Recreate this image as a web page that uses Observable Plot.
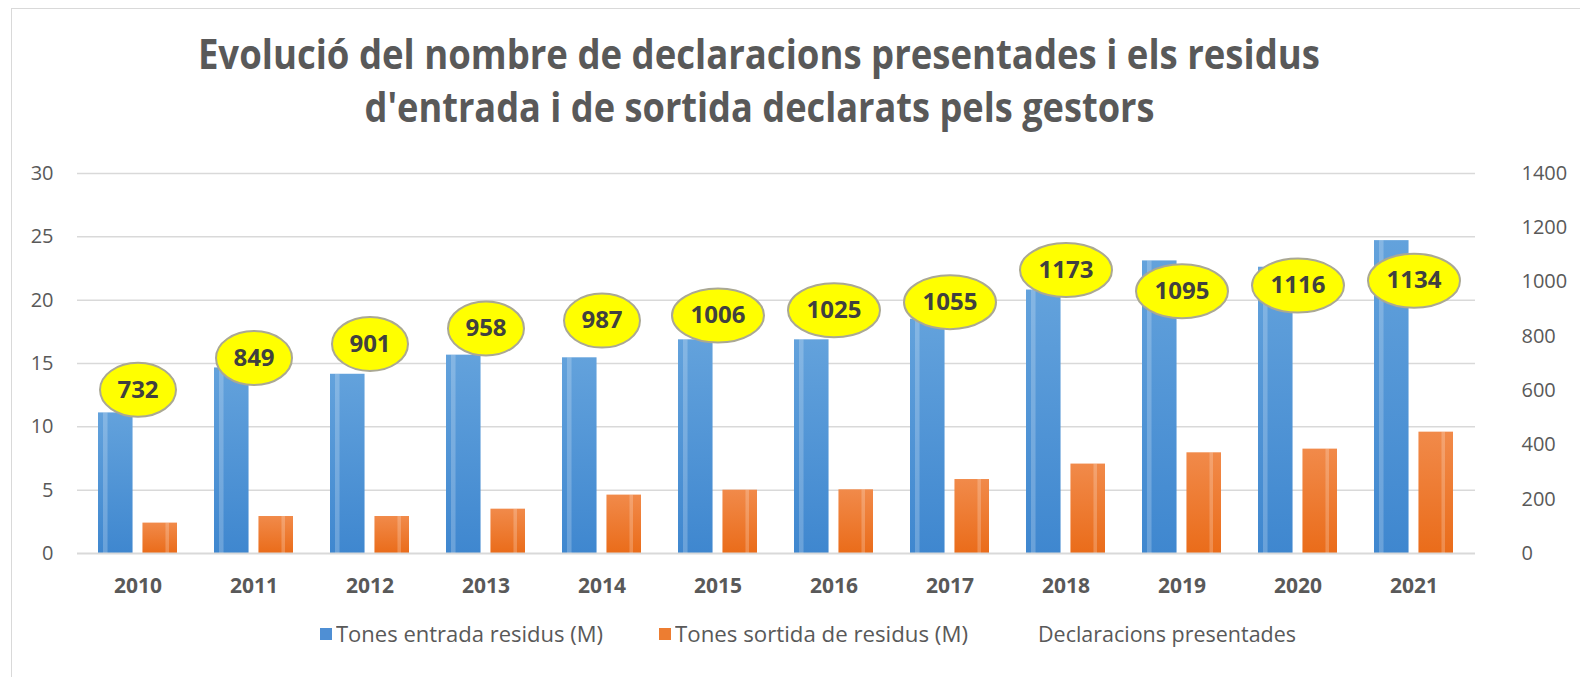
<!DOCTYPE html>
<html>
<head>
<meta charset="utf-8">
<script src="https://cdn.jsdelivr.net/npm/d3@7"></script>
<script src="https://cdn.jsdelivr.net/npm/@observablehq/plot@0.6"></script>
<style>
  html, body { margin: 0; padding: 0; background: #fff; }
  body { width: 1580px; height: 677px; position: relative; overflow: hidden; font-family: "Open Sans", sans-serif; }
  #frame { position: absolute; left: 11px; top: 8px; width: 1600px; height: 700px; border: 1.5px solid #d9d9d9; box-sizing: border-box; }
  .tline { position: absolute; left: 0; width: 1518px; text-align: center; white-space: nowrap; }
  .tline span { display: inline-block; font-family: "Liberation Sans Narrow", "Open Sans", sans-serif; font-weight: bold; font-size: 41px; color: #595959; transform-origin: center; line-height: 1; }
  #chart { position: absolute; left: 0; top: 140px; }
  .leg { position: absolute; top: 622px; height: 24px; display: flex; align-items: center; white-space: nowrap; }
  .leg .sw { width: 12px; height: 12px; margin-right: 4px; flex: none; }
  .leg .lt { display: inline-block; font-family: "Liberation Sans Narrow", "Open Sans", sans-serif; font-size: 21px; color: #595959; transform-origin: left center; }
</style>
</head>
<body>
<div id="frame"></div>
<div class="tline" style="top:33px"><span id="t1">Evolució del nombre de declaracions presentades i els residus</span></div>
<div class="tline" style="top:86px"><span id="t2">d'entrada i de sortida declarats pels gestors</span></div>
<div id="chart"></div>
<div class="leg" style="left:320px"><div class="sw" style="background:#4f8fd4"></div><span class="lt" id="l1">Tones entrada residus (M)</span></div>
<div class="leg" style="left:659px"><div class="sw" style="background:#ed7d31"></div><span class="lt" id="l2">Tones sortida de residus (M)</span></div>
<div class="leg" style="left:1038px"><span class="lt" id="l3">Declaracions presentades</span></div>
<script>
// ---- data ----
const YEARS = ["2010","2011","2012","2013","2014","2015","2016","2017","2018","2019","2020","2021"];
const ENTRADA = [11.1, 14.65, 14.15, 15.66, 15.45, 16.87, 16.87, 18.5, 20.8, 23.1, 22.6, 24.7];
const SORTIDA = [2.4, 2.92, 2.92, 3.5, 4.61, 5.0, 5.03, 5.84, 7.06, 7.95, 8.24, 9.58];
const DECLARACIONS = [732, 849, 901, 958, 987, 1006, 1025, 1055, 1173, 1095, 1116, 1134];
const LEFT_TICKS = [0, 5, 10, 15, 20, 25, 30];
const RIGHT_TICKS = [0, 200, 400, 600, 800, 1000, 1200, 1400];
const LEFT_MAX = 30, RIGHT_MAX = 1400;

const rows = YEARS.map((y, i) => ({year: y, entrada: ENTRADA[i], sortida: SORTIDA[i], decl: DECLARACIONS[i], declL: DECLARACIONS[i] * LEFT_MAX / RIGHT_MAX}));

// ---- layout ----
const W = 1580, ML = 77, MR = 105, MT = 33, MB = 60, PH = 380;
const PI = 0.318, PO = 0.159;
const step = (W - ML - MR) / (YEARS.length - PI + 2 * PO);
const bw = step * (1 - PI);
const BAR_W = 35;
const inset = bw - BAR_W;

function ellipse(rx, ry) {
  const k = 0.5523;
  return { draw(ctx) {
    ctx.moveTo(rx, 0);
    ctx.bezierCurveTo(rx, ry * k, rx * k, ry, 0, ry);
    ctx.bezierCurveTo(-rx * k, ry, -rx, ry * k, -rx, 0);
    ctx.bezierCurveTo(-rx, -ry * k, -rx * k, -ry, 0, -ry);
    ctx.bezierCurveTo(rx * k, -ry, rx, -ry * k, rx, 0);
    ctx.closePath();
  }};
}
const E3 = ellipse(38, 27), E4 = ellipse(46, 27);
const LABEL_DY = 35;

const plot = Plot.plot({
  width: W,
  height: MT + PH + MB,
  marginLeft: ML, marginRight: MR, marginTop: MT, marginBottom: MB,
  style: {fontFamily: "'Open Sans', sans-serif", color: "#595959", background: "transparent", overflow: "visible"},
  x: {domain: YEARS, paddingInner: PI, paddingOuter: PO, label: null},
  y: {domain: [0, LEFT_MAX], label: null},
  marks: [
    Plot.gridY(LEFT_TICKS.slice(1), {stroke: "#d9d9d9", strokeOpacity: 1, strokeWidth: 1.5}),
    Plot.barY(rows, {x: "year", y: "entrada", fill: "url(#gBlue)", insetRight: inset, style: "filter: drop-shadow(1px 0px 1.5px rgba(0,0,0,0.25))"}),
    Plot.barY(rows, {x: "year", y: "entrada", fill: "#ffffff", fillOpacity: 0.22, insetLeft: 5, insetRight: inset + BAR_W - 10}),
    Plot.barY(rows, {x: "year", y: "sortida", fill: "url(#gOrange)", insetLeft: inset, style: "filter: drop-shadow(1px 0px 1.5px rgba(0,0,0,0.25))"}),
    Plot.barY(rows, {x: "year", y: "sortida", fill: "#ffffff", fillOpacity: 0.22, insetLeft: inset + 23, insetRight: 8}),
    Plot.ruleY([0], {stroke: "#d9d9d9", strokeWidth: 2}),
    Plot.axisY(LEFT_TICKS, {anchor: "left", tickSize: 0, tickPadding: 24, fontSize: 20, fill: "#595959"}),
    Plot.axisY(RIGHT_TICKS.map(v => v * LEFT_MAX / RIGHT_MAX), {anchor: "right", tickSize: 0, tickPadding: 46, fontSize: 20, fill: "#595959", tickFormat: d => String(Math.round(d * RIGHT_MAX / LEFT_MAX))}),
    Plot.axisX({anchor: "bottom", tickSize: 0, tickPadding: 25, fontSize: 21, fontWeight: "bold", fill: "#595959"}),
    Plot.dot(rows.filter(d => d.decl < 1000), {x: "year", y: "declL", dy: LABEL_DY, symbol: E3, fill: "#ffff00", stroke: "#aaa894", strokeWidth: 2, style: "filter: drop-shadow(1px 1px 1.5px rgba(0,0,0,0.25))"}),
    Plot.dot(rows.filter(d => d.decl >= 1000), {x: "year", y: "declL", dy: LABEL_DY, symbol: E4, fill: "#ffff00", stroke: "#aaa894", strokeWidth: 2, style: "filter: drop-shadow(1px 1px 1.5px rgba(0,0,0,0.25))"}),
    Plot.text(rows, {x: "year", y: "declL", dy: LABEL_DY, text: d => String(d.decl), fontSize: 24, fontWeight: "bold", fill: "#404040", fontFamily: "'Liberation Sans Narrow', 'Open Sans', sans-serif"})
  ]
});

const defs = d3.select(plot).insert("defs", ":first-child");
const gb = defs.append("linearGradient").attr("id", "gBlue").attr("x1", 0).attr("y1", 0).attr("x2", 0).attr("y2", 1);
gb.append("stop").attr("offset", "0%").attr("stop-color", "#63a2dc");
gb.append("stop").attr("offset", "100%").attr("stop-color", "#3f87cf");
const go = defs.append("linearGradient").attr("id", "gOrange").attr("x1", 0).attr("y1", 0).attr("x2", 0).attr("y2", 1);
go.append("stop").attr("offset", "0%").attr("stop-color", "#f18a4a");
go.append("stop").attr("offset", "100%").attr("stop-color", "#ea6c1a");

document.getElementById("chart").appendChild(plot);

// fit text widths to the reference
function fit(id, target) {
  const el = document.getElementById(id);
  const w = el.getBoundingClientRect().width;
  if (w > 0) el.style.transform = `scaleX(${target / w})`;
}
fit("t1", 1122);
fit("t2", 790);
fit("l1", 267);
fit("l2", 293);
fit("l3", 258);
</script>
</body>
</html>
